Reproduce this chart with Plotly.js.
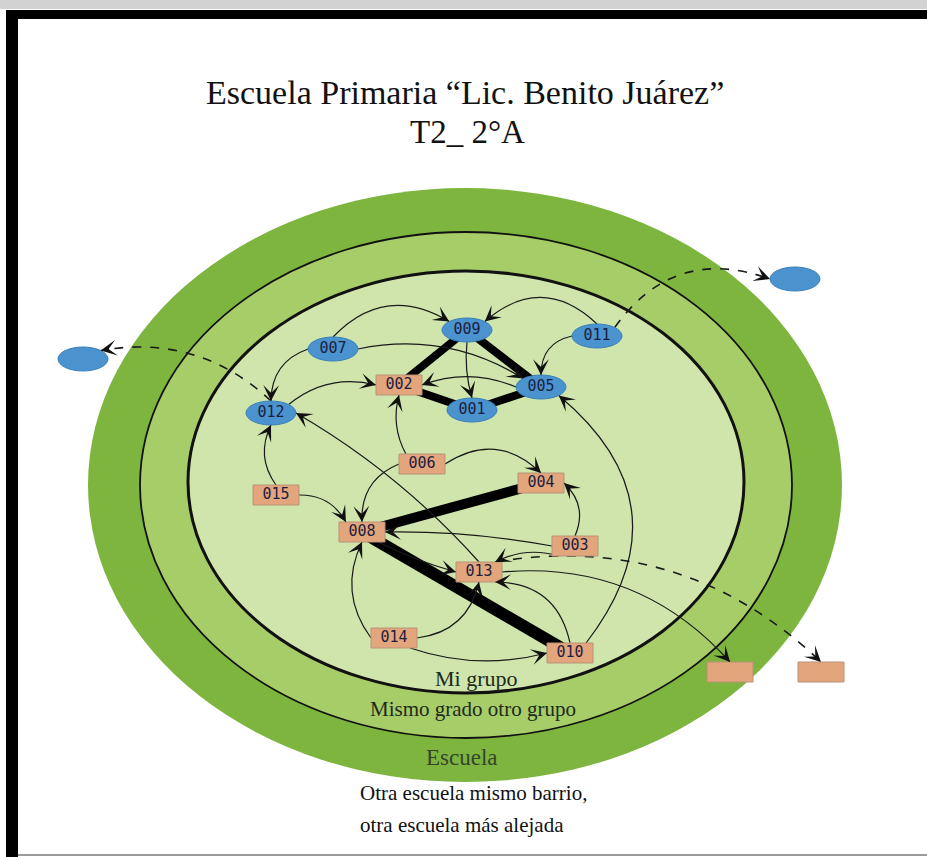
<!DOCTYPE html>
<html><head><meta charset="utf-8">
<script src="https://cdn.plot.ly/plotly-3.0.1.min.js"></script>
<style>html,body{margin:0;padding:0;background:#fff;}</style>
</head><body>
<div id="chart" style="width:927px;height:857px;"></div>
<script>
// ---------- DATA (diagram units, ring centre = 0,0) ----------
const nodeIds     = ['009','011','007','002','005','001','012','006','004','015','008','003','013','014','010','ext_izq','ext_der','ext_1','ext_2'];
const nodeLabels  = ['009','011','007','002','005','001','012','006','004','015','008','003','013','014','010','','','',''];
const nodeX       = [2,132,-132,-66,76,7,-194,-43,76,-189,-103,110,14,-71,105,-382,330,265,356];
const nodeY       = [155,149,136,100,98,75,72,21,2,-10,-47,-61,-87,-153,-168,126,206,-187,-187];
const nodeGender  = ['m','m','m','f','m','m','m','f','f','f','f','f','f','f','f','m','m','f','f'];

// directed choices
const edgeFrom = ['007','011','011','007','007','005','009','012','006','010','013','015','015','006','006','003','003','003','008','014','014','014','010','013','013','012','011'];
const edgeTo   = ['009','009','005','012','005','002','001','002','002','005','012','012','008','008','004','004','008','013','013','008','013','010','013','ext_1','ext_2','ext_izq','ext_der'];
const edgeKind = ['in','in','in','in','in','in','in','in','in','in','in','in','in','in','in','in','in','in','in','in','in','in','in','out','out-far','out-far','out-far'];

// mutual (strong) choices
const strongA = ['009','009','002','001','008','008'];
const strongB = ['002','005','001','005','004','010'];
const strongLevel = [1,1,1,1,2,3];

// rings
const ringNames = ['Escuela','Mismo grado otro grupo','Mi grupo'];

// ---------- STYLE / GEOMETRY ----------
const edgeGeom = [
 ['n','nw',-0.4],['n','ne',0.45],['w','n',0.4],['w','n',0.35],['e','nw',-0.2],
 ['w','e',0.2],['s','n',0.1],['ne','w',-0.25],['nw','s',-0.2],['ne','se',0.48],
 ['n','e',0.08],['n','s',-0.3],['e','nw',-0.3],['w','n',0.35],['e','n',-0.4],
 ['n','e',0.35],['w','e',0.05],['sw','ne',0.2],['se','w',0.05],['w','s',-0.3],
 ['e','s',0.35],['se','w',0.15],['n','se',0.4],['e','n',-0.25],['ne','n',-0.25],
 ['n','ne',0.25],['ne','w',-0.38]
];
const ringGeom = [
  {cx:0, cy:0, rx:377, ry:297, fill:'#7db53f', lw:0},
  {cx:1, cy:0, rx:326, ry:253, fill:'#a6cd68', lw:1.8},
  {cx:1, cy:3, rx:278, ry:211, fill:'#cfe5ac', lw:3}
];
const EL = {hw:25, hh:12}, RC = {hw:23, hh:10};
const sideE = {n:[0,1],s:[0,-1],e:[1,0],w:[-1,0],ne:[0.71,0.71],nw:[-0.71,0.71],se:[0.71,-0.71],sw:[-0.71,-0.71]};
const sideR = {n:[0,1],s:[0,-1],e:[1,0],w:[-1,0],ne:[0.7,1],nw:[-0.7,1],se:[0.7,-1],sw:[-0.7,-1]};

const idx = {}; nodeIds.forEach((id,i)=>idx[id]=i);
function anchor(id, side){
  const i = idx[id];
  const m = nodeGender[i]==='m';
  const v = (m?sideE:sideR)[side];
  const h = m?EL:RC;
  return [nodeX[i]+v[0]*h.hw, nodeY[i]+v[1]*h.hh];
}

const shapes = [];
const annotations = [];

ringGeom.forEach(r=>{
  shapes.push({type:'circle', xref:'x', yref:'y', layer:'below',
    x0:r.cx-r.rx, x1:r.cx+r.rx, y0:r.cy-r.ry, y1:r.cy+r.ry,
    fillcolor:r.fill, line:{width:r.lw, color:'#111'}});
});

const strongW = {1:8, 2:10, 3:12};
strongA.forEach((a,k)=>{
  const i=idx[a], j=idx[strongB[k]];
  shapes.push({type:'line', xref:'x', yref:'y', layer:'below',
    x0:nodeX[i], y0:nodeY[i], x1:nodeX[j], y1:nodeY[j],
    line:{color:'#000', width:strongW[strongLevel[k]]}});
});

edgeFrom.forEach((f,k)=>{
  const g = edgeGeom[k];
  const p0 = anchor(f, g[0]);
  const p2 = anchor(edgeTo[k], g[1]);
  const dx = p2[0]-p0[0], dy = p2[1]-p0[1];
  const L = Math.hypot(dx,dy);
  const nx = dy/L, ny = -dx/L;
  const c = [(p0[0]+p2[0])/2 + g[2]*L*nx, (p0[1]+p2[1])/2 + g[2]*L*ny];
  const dashed = edgeKind[k]==='out-far';
  shapes.push({type:'path', xref:'x', yref:'y', layer:'below',
    path:`M${p0[0]},${p0[1]} Q${c[0]},${c[1]} ${p2[0]},${p2[1]}`,
    line:{color:'#1a1a1a', width:dashed?1.6:1.2, dash:dashed?'dash':'solid'}});
  let tx = p2[0]-c[0], ty = p2[1]-c[1];
  const tl = Math.hypot(tx,ty); tx/=tl; ty/=tl;
  annotations.push({x:p2[0], y:p2[1], ax:p2[0]-tx*8, ay:p2[1]-ty*8,
    xref:'x', yref:'y', axref:'x', ayref:'y', text:'', showarrow:true,
    arrowhead:3, arrowsize:2.2, arrowwidth:1.2, arrowcolor:'#111', standoff:0});
});

nodeIds.forEach((id,i)=>{
  const m = nodeGender[i]==='m';
  const h = m?EL:RC;
  shapes.push({type:m?'circle':'rect', xref:'x', yref:'y', layer:'below',
    x0:nodeX[i]-h.hw, x1:nodeX[i]+h.hw, y0:nodeY[i]-h.hh, y1:nodeY[i]+h.hh,
    fillcolor:m?'#4a93cf':'#e3a67c', line:{color:m?'#3a7fb8':'#b89278', width:1}});
});

// frame (decoration, paper coords)
const W=927, H=857;
shapes.push({type:'rect', xref:'paper', yref:'paper', x0:0, x1:1, y0:1-9/H, y1:1, fillcolor:'#d2d2d2', line:{width:0}});
shapes.push({type:'rect', xref:'paper', yref:'paper', x0:6/W, x1:1, y0:1-19/H, y1:1-10/H, fillcolor:'#000', line:{width:0}});
shapes.push({type:'rect', xref:'paper', yref:'paper', x0:6/W, x1:18/W, y0:0, y1:1-10/H, fillcolor:'#000', line:{width:0}});
shapes.push({type:'line', xref:'paper', yref:'paper', x0:18/W, x1:1, y0:2/H, y1:2/H, line:{color:'#9a9a9a', width:2}});

const serif = 'Liberation Serif, DejaVu Serif, serif';
annotations.push({x:0, y:393, xref:'x', yref:'y', showarrow:false, text:'Escuela Primaria “Lic. Benito Juárez”', font:{family:serif, size:34, color:'#111'}});
annotations.push({x:2, y:353, xref:'x', yref:'y', showarrow:false, text:'T2_ 2°A', font:{family:serif, size:33, color:'#111'}});
annotations.push({x:11, y:-193, xref:'x', yref:'y', showarrow:false, text:ringNames[2], font:{family:serif, size:22, color:'#1e2a1a'}});
annotations.push({x:8, y:-224, xref:'x', yref:'y', showarrow:false, text:ringNames[1], font:{family:serif, size:21, color:'#1e2a1a'}});
annotations.push({x:-3, y:-272, xref:'x', yref:'y', showarrow:false, text:ringNames[0], font:{family:serif, size:23, color:'#34452c'}});
annotations.push({x:-107, y:-308, xref:'x', yref:'y', xanchor:'left', showarrow:false, text:'Otra escuela mismo barrio,', font:{family:serif, size:21, color:'#111'}});
annotations.push({x:-107, y:-340, xref:'x', yref:'y', xanchor:'left', showarrow:false, text:'otra escuela más alejada', font:{family:serif, size:21, color:'#111'}});

const labelTrace = {type:'scatter', mode:'text', x:nodeX, y:nodeY, text:nodeLabels,
  textfont:{family:'DejaVu Sans Mono, Liberation Mono, monospace', size:15, color:'#1c2040'},
  hoverinfo:'skip', showlegend:false, cliponaxis:false};

Plotly.newPlot('chart', [labelTrace], {
  width:W, height:H, margin:{l:0,r:0,t:0,b:0},
  paper_bgcolor:'#fff', plot_bgcolor:'#fff',
  xaxis:{range:[-465,462], visible:false, fixedrange:true},
  yaxis:{range:[-372,485], visible:false, fixedrange:true},
  shapes:shapes, annotations:annotations, showlegend:false
}, {staticPlot:true});
</script>
</body></html>
